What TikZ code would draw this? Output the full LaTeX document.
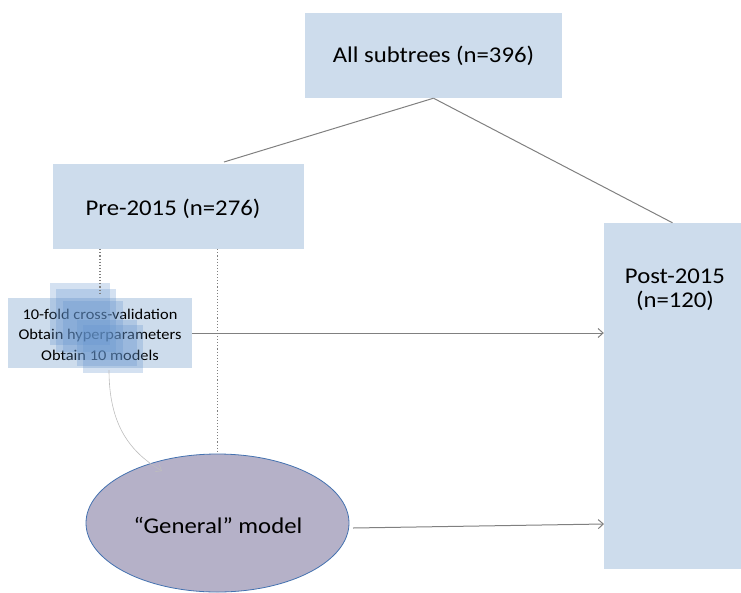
\documentclass[tikz,border=0pt]{standalone}
\usepackage{fontspec}
\setmainfont{Carlito}[FakeStretch=1.1]
\usetikzlibrary{arrows.meta,shapes.geometric}
\definecolor{boxblue}{RGB}{205,220,236}
\definecolor{foldblue}{RGB}{100,148,206}
\definecolor{modelfill}{RGB}{181,177,200}
\definecolor{modeledge}{RGB}{68,114,176}
\definecolor{linkgray}{RGB}{128,128,128}
\definecolor{faintgray}{RGB}{190,190,190}
\begin{document}
\begin{tikzpicture}[x=1pt,y=-1pt,
  stage/.style={fill=boxblue,draw=none,inner sep=0pt,font=\fontsize{22.5}{23}\selectfont},
  bigtext/.style={inner sep=0pt,align=center,font=\fontsize{22.5}{23.5}\selectfont},
  smalltext/.style={inner sep=0pt,align=center,font=\fontsize{14.9}{20.5}\selectfont},
  fold/.style={fill=foldblue,fill opacity=0.28,draw=none},
  link/.style={draw=linkgray,line width=1pt},
  dots/.style={draw=linkgray,line width=1.1pt,dotted},
  flow/.style={link,-{Straight Barb[length=5pt,width=9pt]}},
  thin flow/.style={draw=faintgray,line width=0.6pt,-{Straight Barb[length=5pt,width=8pt]}},
]
\useasboundingbox (0,0) rectangle (741,592);

% dataset boxes
\node[stage,minimum width=257pt,minimum height=85pt] (all) at (433.5,55.5) {All subtrees (n=396)};
\node[stage,minimum width=251pt,minimum height=85pt] (pre) at (178.5,206.5) {};
\node[bigtext] (pretext) at (173,209) {Pre-2015 (n=276)};
\node[stage,minimum width=137pt,minimum height=346pt] (post) at (672.5,396) {};
\node[bigtext] (posttext) at (675,290) {Post-2015\\(n=120)};

% cross-validation box with its stacked folds
\node[fill=boxblue,inner sep=0pt,minimum width=184pt,minimum height=70pt] (cv) at (100,333) {};
\node[smalltext] (cvtext) at (100,334.5) {10-fold cross-validation\\Obtain hyperparameters\\Obtain 10 models};
\path[fold] (50,283) rectangle (110,345);
\path[fold] (56,289) rectangle (116,352);
\path[fold] (63,301) rectangle (123,360);
\path[fold] (77,320) rectangle (137,366);
\path[fold] (83,325) rectangle (143,373);

% general model
\node[ellipse,fill=modelfill,draw=modeledge,line width=0.8pt,minimum width=263pt,minimum height=138pt,inner sep=0pt] (gm) at (217.5,523) {};
\node[bigtext] (gmtext) at (218,525) {“General” model};

% connector end points
\coordinate (preTop) at (224,162);
\coordinate (foldTop) at (100,293);
\coordinate (curveStart) at (109,370);
\coordinate (curveEnd) at (162,471);
\coordinate (gmOut) at (353,528);
\coordinate (postIn) at (604,524);

% connectors
\draw[link] (all.south) -- (preTop);
\draw[link] (all.south) -- (post.north);
\draw[dots] (pre.south -| foldTop) -- (foldTop);
\draw[dots] (pre.south -| gm.north) -- (gm.north);
\draw[flow] (cv.east) -- (post.west |- cv.east);
\draw[thin flow] (curveStart) .. controls (109,425) and (130,452) .. (curveEnd);
\draw[flow] (gmOut) -- (postIn);
\end{tikzpicture}
\end{document}
